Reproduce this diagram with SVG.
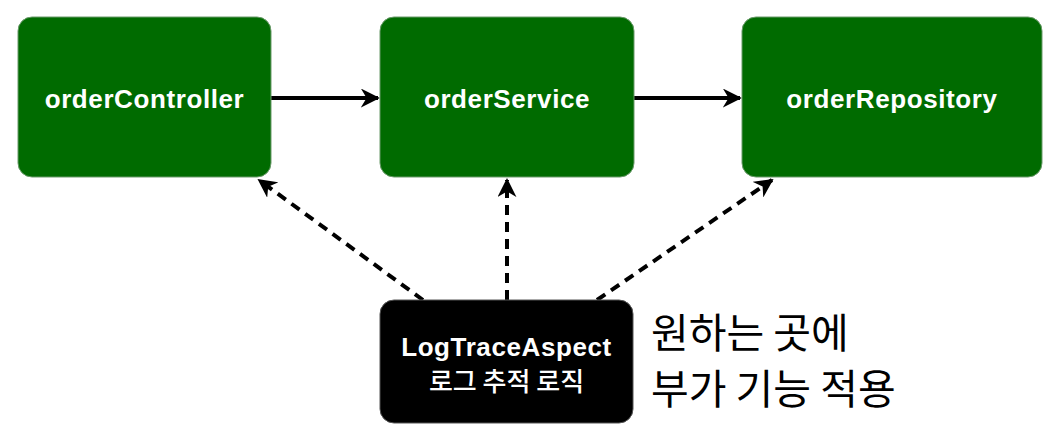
<svg xmlns="http://www.w3.org/2000/svg" width="1056" height="430" viewBox="0 0 1056 430">
<style>
.node{fill:#006b00;stroke:#6a9a6a;stroke-width:1}
.dark{fill:#000000;stroke:#555;stroke-width:1}
.lbl{font-family:"Liberation Sans","Noto Sans CJK KR",sans-serif;font-weight:bold;fill:#ffffff;text-anchor:middle;font-size:26px;letter-spacing:0.6px}
.kr{font-family:"Noto Sans CJK KR",sans-serif;font-weight:500;fill:#ffffff;text-anchor:middle;font-size:26px}
.note{font-family:"Noto Sans CJK KR","Liberation Sans",sans-serif;fill:#000000;font-size:41px}
.solid{stroke:#000;stroke-width:4;fill:none}
.dash{stroke:#000;stroke-width:4;fill:none;stroke-dasharray:10 7}
</style>
<defs>
<marker id="ah" viewBox="0 0 10 10" refX="9" refY="5" markerWidth="19" markerHeight="19" markerUnits="userSpaceOnUse" orient="auto">
<path d="M0,0 L10,5 L0,10 L3,5 Z" fill="#000"/>
</marker>
</defs>
<rect width="1056" height="430" fill="#fff"/>
<g id="connectors">
<line class="solid" x1="271" y1="98" x2="378" y2="98" marker-end="url(#ah)"/>
<line class="solid" x1="634" y1="98" x2="740" y2="98" marker-end="url(#ah)"/>
<line class="dash" x1="423" y1="300" x2="259" y2="180" marker-end="url(#ah)"/>
<line class="dash" x1="507" y1="300" x2="507" y2="180" marker-end="url(#ah)"/>
<line class="dash" x1="597" y1="300" x2="772" y2="180" marker-end="url(#ah)"/>
</g>
<g id="orderController">
<rect class="node" x="18" y="17" width="253" height="160" rx="14"/>
<text class="lbl" x="144.5" y="108">orderController</text>
</g>
<g id="orderService">
<rect class="node" x="380" y="17" width="254" height="160" rx="14"/>
<text class="lbl" x="507" y="108">orderService</text>
</g>
<g id="orderRepository">
<rect class="node" x="742" y="17" width="300" height="160" rx="14"/>
<text class="lbl" x="892" y="108">orderRepository</text>
</g>
<g id="LogTraceAspect">
<rect class="dark" x="380" y="300" width="253" height="123" rx="14"/>
<text class="lbl" x="506.5" y="356">LogTraceAspect</text>
<text class="kr" x="506.5" y="391">로그 추적 로직</text>
</g>
<g id="note">
<text class="note" x="651" y="348">원하는 곳에</text>
<text class="note" x="651" y="404">부가 기능 적용</text>
</g>
</svg>
